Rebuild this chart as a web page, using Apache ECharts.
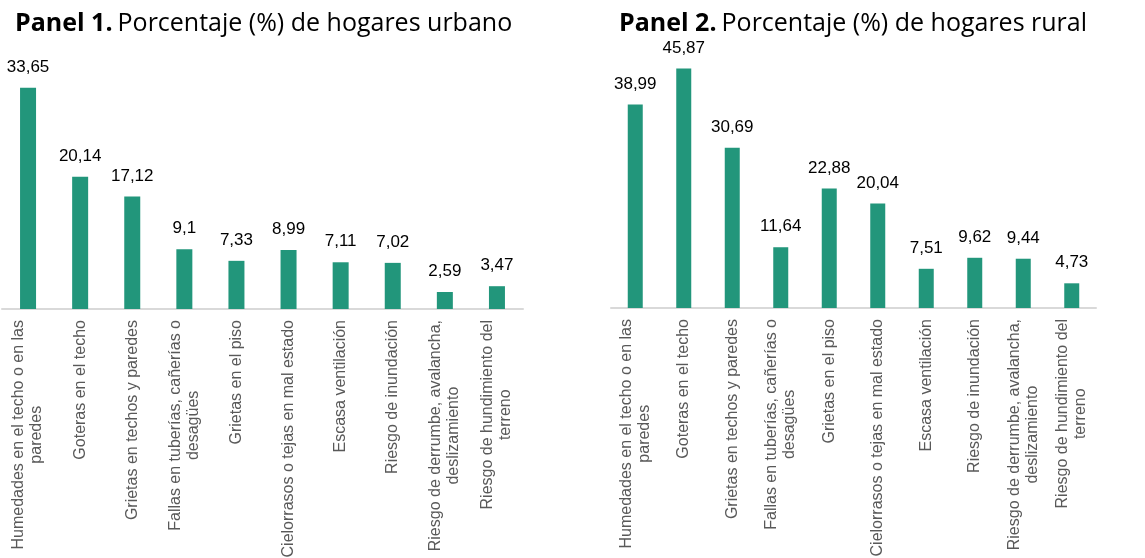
<!DOCTYPE html>
<html>
<head>
<meta charset="utf-8">
<script src="https://cdn.jsdelivr.net/npm/echarts@6/dist/echarts.min.js"></script>
<style>
  html, body { margin: 0; padding: 0; background: #fff; }
  #main { width: 1145px; height: 558px; }
</style>
</head>
<body>
<div id="main"></div>
<script>
var categories = [
    'Humedades en el techo o en las\nparedes',
    'Goteras en el techo',
    'Grietas en techos y paredes',
    'Fallas en tuberías, cañerías o\ndesagües',
    'Grietas en el piso',
    'Cielorrasos o tejas en mal estado',
    'Escasa ventilación',
    'Riesgo de inundación',
    'Riesgo de derrumbe, avalancha,\ndeslizamiento',
    'Riesgo de hundimiento del\nterreno'
];
var urbano = [33.65, 20.14, 17.12, 9.1, 7.33, 8.99, 7.11, 7.02, 2.59, 3.47];
var rural = [38.99, 45.87, 30.69, 11.64, 22.88, 20.04, 7.51, 9.62, 9.44, 4.73];

var barColor = '#22967b';

var myChart = echarts.init(document.getElementById('main'));

function catLabel(v) {
    return v.split('\n').map(function (s) { return '{c|' + s + '}'; }).join('\n');
}

var xAxisBase = {
    type: 'category',
    data: categories,
    axisTick: { show: false },
    axisLine: { lineStyle: { color: '#d9d9d9', width: 2 } },
    axisLabel: {
        rotate: 90,
        interval: 0,
        margin: 11,
        color: '#595959',
        fontFamily: 'Liberation Sans',
        fontSize: 16,
        lineHeight: 18,
        formatter: catLabel,
        rich: { c: { align: 'center', color: '#595959', fontFamily: 'Liberation Sans', fontSize: 16, lineHeight: 18 } }
    }
};

var valueLabel = {
    show: true,
    position: 'top',
    distance: 12,
    color: '#000',
    fontFamily: 'Liberation Sans',
    fontSize: 17,
    formatter: function (p) { return String(p.value).replace('.', ','); }
};

var titleRich = {
    b: { fontFamily: 'Open Sans', fontWeight: 'bold', fontSize: 25, color: '#000' },
    r: { fontFamily: 'Open Sans', fontWeight: 'normal', fontSize: 25, color: '#000' }
};

var option = {
    animation: false,
    title: [
        {
            text: '{b|Panel 1.} {r|Porcentaje (%) de hogares urbano}',
            left: 10, top: 6,
            textStyle: { fontWeight: 'normal', rich: titleRich }
        },
        {
            text: '{b|Panel 2.} {r|Porcentaje (%) de hogares rural}',
            left: 614, top: 6,
            textStyle: { fontWeight: 'normal', rich: titleRich }
        }
    ],
    grid: [
        { left: 2, width: 521, top: 79, bottom: 249, outerBoundsMode: 'none', containLabel: false },
        { left: 611, width: 485, top: 47, bottom: 250, outerBoundsMode: 'none', containLabel: false }
    ],
    xAxis: [
        Object.assign({ gridIndex: 0 }, xAxisBase),
        Object.assign({ gridIndex: 1 }, xAxisBase)
    ],
    yAxis: [
        { gridIndex: 0, type: 'value', min: 0, max: 35, show: false },
        { gridIndex: 1, type: 'value', min: 0, max: 50, show: false }
    ],
    series: [
        {
            name: 'Urbano',
            type: 'bar',
            xAxisIndex: 0,
            yAxisIndex: 0,
            barWidth: 16,
            itemStyle: { color: barColor },
            label: valueLabel,
            data: urbano
        },
        {
            name: 'Rural',
            type: 'bar',
            xAxisIndex: 1,
            yAxisIndex: 1,
            barWidth: 15,
            itemStyle: { color: barColor },
            label: valueLabel,
            data: rural
        }
    ]
};

myChart.setOption(option);

window.onresize = function () {
    myChart.resize();
};
</script>
</body>
</html>
